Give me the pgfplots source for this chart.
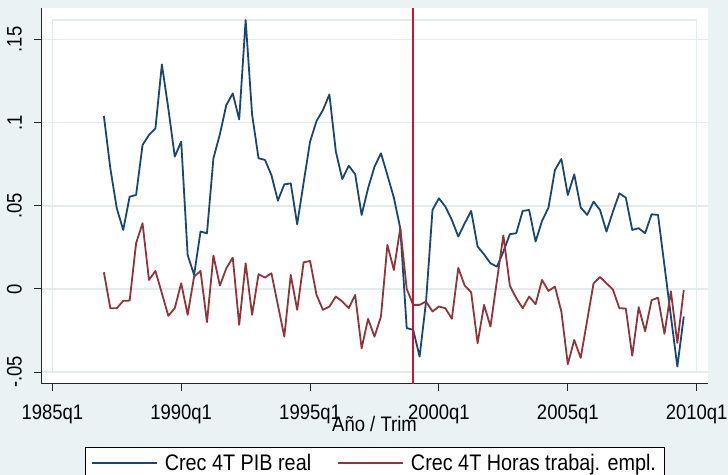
\documentclass[border=0pt]{standalone}
\usepackage{pgfplots}
\pgfplotsset{compat=1.18}
\usepackage{fontspec}
\setmainfont[FakeStretch=0.88]{Liberation Sans}

\definecolor{bgc}{RGB}{234,242,243}
\definecolor{gridc}{RGB}{226,236,238}
\definecolor{stnavy}{RGB}{26,71,111}
\definecolor{stmaroon}{RGB}{144,53,59}
\definecolor{vline}{RGB}{205,20,55}

\begin{document}
\begin{tikzpicture}[x=1bp,y=1bp]
\fill[bgc] (0,0) rectangle (728,475);
\begin{axis}[
  at={(41bp,91bp)}, anchor=south west,
  scale only axis, width=667bp, height=376bp,
  xmin=1984.56, xmax=2010.44, ymin=-0.0572, ymax=0.169,
  axis background/.style={fill=white},
  axis lines*=left,
  axis line style={-, black!85, line width=1bp},
  tick align=outside, major tick length=7bp,
  tick style={black!85, line width=1bp},
  xtick={1985,1990,1995,2000,2005,2010},
  xticklabels={1985q1,1990q1,1995q1,2000q1,2005q1,2010q1},
  ytick={-0.05,0,0.05,0.1,0.15},
  yticklabels={-.05,0,.05,.1,.15},
  ymajorgrids, major grid style={gridc, line width=1.5bp},
  tick label style={font=\fontsize{21bp}{24bp}\selectfont},
  xticklabel style={anchor=north, inner sep=0pt, yshift=-14bp},
  yticklabel style={xshift=-12bp, rotate=90, anchor=south, inner sep=0pt},
  xlabel={Año / Trim},
  xlabel style={at={(axis description cs:0.5,0)}, anchor=north, inner sep=0pt,
    yshift=-32bp, font=\fontsize{21bp}{24bp}\selectfont},
  legend style={at={(axis description cs:0.5,-0.1676)}, anchor=north,
    legend columns=2, draw=black, line width=0.8bp, fill=white,
    font=\fontsize{22.5bp}{26bp}\selectfont, inner xsep=6bp, inner ysep=5bp,
    /tikz/every odd column/.append style={column sep=5bp},
    /tikz/every even column/.append style={column sep=24bp}},
  legend cell align=left,
  legend image code/.code={\draw[#1] (0bp,0bp) -- (65bp,0bp);},
]
\draw[gridc, line width=1.5bp] (axis cs:1985,-0.05) rectangle (axis cs:2010,0.1619);

\addplot[stnavy, line width=1.8bp, line join=round] coordinates {
(1987.00,0.1040)(1987.25,0.0725)(1987.50,0.0485)(1987.75,0.0355)
(1988.00,0.0555)(1988.25,0.0565)(1988.50,0.0866)(1988.75,0.0926)
(1989.00,0.0966)(1989.25,0.1350)(1989.50,0.1086)(1989.75,0.0796)
(1990.00,0.0886)(1990.25,0.0204)(1990.50,0.0084)(1990.75,0.0345)
(1991.00,0.0335)(1991.25,0.0786)(1991.50,0.0930)(1991.75,0.1106)
(1992.00,0.1176)(1992.25,0.1020)(1992.50,0.1617)(1992.75,0.1050)
(1993.00,0.0786)(1993.25,0.0776)(1993.50,0.0685)(1993.75,0.0531)
(1994.00,0.0629)(1994.25,0.0635)(1994.50,0.0389)(1994.75,0.0640)
(1995.00,0.0886)(1995.25,0.1010)(1995.50,0.1076)(1995.75,0.1170)
(1996.00,0.0826)(1996.25,0.0661)(1996.50,0.0741)(1996.75,0.0690)
(1997.00,0.0445)(1997.25,0.0605)(1997.50,0.0735)(1997.75,0.0816)
(1998.00,0.0685)(1998.25,0.0549)(1998.50,0.0365)(1998.75,-0.0236)
(1999.00,-0.0246)(1999.25,-0.0407)(1999.50,-0.0076)(1999.75,0.0475)
(2000.00,0.0545)(2000.25,0.0495)(2000.50,0.0415)(2000.75,0.0315)
(2001.00,0.0395)(2001.25,0.0469)(2001.50,0.0255)(2001.75,0.0208)
(2002.00,0.0154)(2002.25,0.0134)(2002.50,0.0224)(2002.75,0.0329)
(2003.00,0.0335)(2003.25,0.0469)(2003.50,0.0475)(2003.75,0.0285)
(2004.00,0.0409)(2004.25,0.0489)(2004.50,0.0715)(2004.75,0.0782)
(2005.00,0.0565)(2005.25,0.0689)(2005.50,0.0490)(2005.75,0.0445)
(2006.00,0.0525)(2006.25,0.0475)(2006.50,0.0345)(2006.75,0.0465)
(2007.00,0.0575)(2007.25,0.0549)(2007.50,0.0355)(2007.75,0.0365)
(2008.00,0.0335)(2008.25,0.0449)(2008.50,0.0445)(2008.75,0.0140)
(2009.00,-0.0165)(2009.25,-0.0467)(2009.50,-0.0166)
};
\addlegendentry{Crec 4T PIB real}

\addplot[stmaroon, line width=1.8bp, line join=round] coordinates {
(1987.00,0.0100)(1987.25,-0.0116)(1987.50,-0.0116)(1987.75,-0.0072)
(1988.00,-0.0070)(1988.25,0.0275)(1988.50,0.0395)(1988.75,0.0054)
(1989.00,0.0108)(1989.25,-0.0026)(1989.50,-0.0162)(1989.75,-0.0116)
(1990.00,0.0034)(1990.25,-0.0156)(1990.50,0.0074)(1990.75,0.0108)
(1991.00,-0.0200)(1991.25,0.0200)(1991.50,0.0020)(1991.75,0.0124)
(1992.00,0.0188)(1992.25,-0.0216)(1992.50,0.0154)(1992.75,-0.0156)
(1993.00,0.0088)(1993.25,0.0068)(1993.50,0.0094)(1993.75,-0.0096)
(1994.00,-0.0287)(1994.25,0.0084)(1994.50,-0.0126)(1994.75,0.0160)
(1995.00,0.0168)(1995.25,-0.0036)(1995.50,-0.0126)(1995.75,-0.0106)
(1996.00,-0.0046)(1996.25,-0.0076)(1996.50,-0.0116)(1996.75,-0.0036)
(1997.00,-0.0357)(1997.25,-0.0180)(1997.50,-0.0287)(1997.75,-0.0166)
(1998.00,0.0265)(1998.25,0.0114)(1998.50,0.0365)(1998.75,0.0000)
(1999.00,-0.0096)(1999.25,-0.0096)(1999.50,-0.0076)(1999.75,-0.0136)
(2000.00,-0.0106)(2000.25,-0.0116)(2000.50,-0.0180)(2000.75,0.0126)
(2001.00,0.0020)(2001.25,-0.0020)(2001.50,-0.0327)(2001.75,-0.0096)
(2002.00,-0.0226)(2002.25,0.0050)(2002.50,0.0322)(2002.75,0.0020)
(2003.00,-0.0056)(2003.25,-0.0116)(2003.50,-0.0046)(2003.75,-0.0092)
(2004.00,0.0054)(2004.25,-0.0012)(2004.50,0.0014)(2004.75,-0.0136)
(2005.00,-0.0453)(2005.25,-0.0307)(2005.50,-0.0415)(2005.75,-0.0190)
(2006.00,0.0034)(2006.25,0.0071)(2006.50,0.0034)(2006.75,-0.0004)
(2007.00,-0.0116)(2007.25,-0.0118)(2007.50,-0.0402)(2007.75,-0.0110)
(2008.00,-0.0255)(2008.25,-0.0068)(2008.50,-0.0053)(2008.75,-0.0270)
(2009.00,-0.0014)(2009.25,-0.0325)(2009.50,-0.0006)
};
\addlegendentry{Crec 4T Horas trabaj. empl.}

\addplot[vline, line width=2bp, forget plot] coordinates {(1999,-0.0572) (1999,0.169)};
\end{axis}
\pgfresetboundingbox
\path[use as bounding box] (0,0) rectangle (728,475);
\end{tikzpicture}
\end{document}
